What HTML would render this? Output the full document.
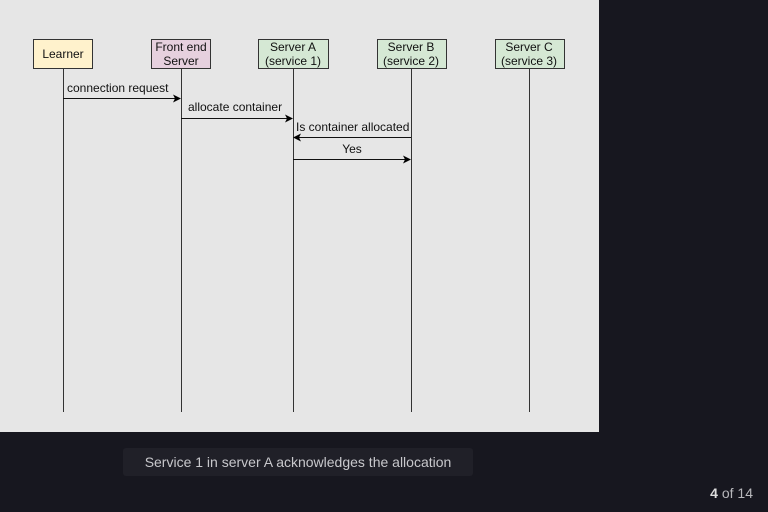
<!DOCTYPE html>
<html><head><style>
html,body{margin:0;padding:0;width:768px;height:512px;background:#17171f;overflow:hidden;font-family:"Liberation Sans",sans-serif}
.cap{position:absolute;left:123px;top:448px;width:350px;height:28px;background:#202028;border-radius:3px;color:#c8c8cc;font-size:14px;line-height:28px;text-align:center}
.pg{position:absolute;right:15px;top:485px;color:#b8b8bc;font-size:14px}
.pg b{color:#ddd}
</style></head><body>
<svg width="768" height="512" style="position:absolute;left:0;top:0">
<defs><marker id="a" markerWidth="8" markerHeight="8" refX="7" refY="4" orient="auto" markerUnits="userSpaceOnUse"><path d="M0,0 L8,4 L0,8 L2,4 Z" fill="#000"/></marker></defs>
<rect x="0" y="0" width="599" height="432" fill="#e6e6e6"/>
<g stroke="#333" stroke-width="1">
<line x1="63.5" y1="68" x2="63.5" y2="412"/>
<line x1="181.5" y1="68" x2="181.5" y2="412"/>
<line x1="293.5" y1="68" x2="293.5" y2="412"/>
<line x1="411.5" y1="68" x2="411.5" y2="412"/>
<line x1="529.5" y1="68" x2="529.5" y2="412"/>
</g>
<g stroke="#333" stroke-width="1">
<rect x="33.5" y="39.5" width="59" height="29" fill="#fff2cc"/>
<rect x="151.5" y="39.5" width="59" height="29" fill="#e6d0de"/>
<rect x="258.5" y="39.5" width="70" height="29" fill="#d5e8d4"/>
<rect x="377.5" y="39.5" width="69" height="29" fill="#d5e8d4"/>
<rect x="495.5" y="39.5" width="69" height="29" fill="#d5e8d4"/>
</g>
<g font-family="Liberation Sans,sans-serif" font-size="12" fill="#111" text-anchor="middle">
<text x="63" y="58">Learner</text>
<text x="181" y="51">Front end</text><text x="181" y="65">Server</text>
<text x="293" y="51">Server A</text><text x="293" y="65">(service 1)</text>
<text x="411" y="51">Server B</text><text x="411" y="65">(service 2)</text>
<text x="529" y="51">Server C</text><text x="529" y="65">(service 3)</text>
</g>
<g stroke="#111" stroke-width="1" marker-end="url(#a)">
<line x1="63" y1="98.5" x2="180" y2="98.5"/>
<line x1="181" y1="118.5" x2="292" y2="118.5"/>
<line x1="411" y1="137.5" x2="294" y2="137.5"/>
<line x1="293" y1="159.5" x2="410" y2="159.5"/>
</g>
<g font-family="Liberation Sans,sans-serif" font-size="12" fill="#111">
<text x="67" y="92">connection request</text>
<text x="188" y="111">allocate container</text>
<text x="296" y="131">Is container allocated</text>
<text x="352" y="153" text-anchor="middle">Yes</text>
</g>
</svg>
<div class="cap">Service 1 in server A acknowledges the allocation</div>
<div class="pg"><b>4</b> of 14</div>
</body></html>
